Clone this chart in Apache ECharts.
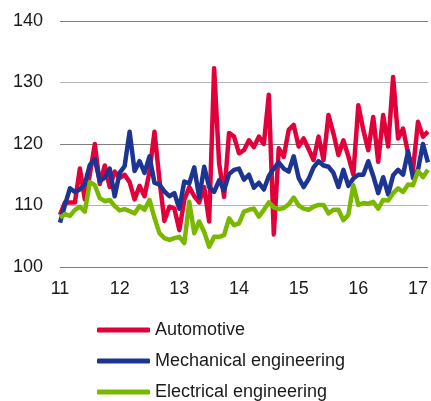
<!DOCTYPE html>
<html>
<head>
<meta charset="utf-8">
<script src="https://cdn.jsdelivr.net/npm/echarts@6/dist/echarts.min.js"></script>
<style>
html,body{margin:0;padding:0;background:#fff;}
#chart{width:431px;height:401px;}
</style>
</head>
<body>
<div id="chart"></div>
<script>
var seriesNames = ['Automotive', 'Mechanical engineering', 'Electrical engineering'];
var yearLabels = ['11', '12', '13', '14', '15', '16', '17'];
var months = ['01','02','03','04','05','06','07','08','09','10','11','12'];

var automotive = [
  108.5, 110.5, 110.5, 110.5, 116, 111, 115, 120, 113.5, 116.5,
  113, 115.5, 114.5, 115, 113.8, 111, 113.2, 111.5, 115.5, 122,
  114.2, 107.5, 109.8, 109.5, 106, 110.9, 113, 111.5, 110.5, 113,
  107.4, 132.3, 116.9, 111.4, 121.8, 121.2, 118.5, 119, 120.6, 119.5,
  121.2, 120, 128, 105.3, 119.3, 117.9, 122.3, 123.1, 119.6, 120.9,
  119.2, 117.4, 121.2, 117.4, 124.7, 121.7, 118.2, 120.6, 118, 115,
  126.3, 122.3, 119, 124.4, 117.1, 124.7, 119.6, 130.9, 120.9, 122.5,
  118.5, 115.8, 123.6, 121.2, 122
];
var mechanical = [
  107.2, 110.1, 112.8, 112.2, 112.6, 113.5, 116.6, 117.5, 114, 114.5,
  116, 111.5, 115.3, 116.4, 122, 115.6, 117.2, 115.3, 118, 113.7,
  113.4, 112.3, 111.5, 112, 109.5, 113.9, 113.6, 116.2, 111.3, 116.3,
  113, 112.2, 114.1, 112.5, 115.1, 115.8, 116, 114.2, 115, 112.9,
  113.7, 112.6, 114.8, 116, 117, 116, 115.5, 118, 114.5, 113,
  114.3, 116.2, 117.2, 116.5, 116.3, 115.3, 113, 115.8, 113.2, 114.4,
  115, 115, 117.2, 114.8, 112, 114.6, 111.8, 114.9, 115.8, 115,
  118.8, 114.5, 115.8, 120, 117
];
var electrical = [
  108, 108.6, 108.3, 109.3, 109.8, 109, 113.8, 113.3, 111.2, 110.7,
  110.9, 109.9, 109.2, 109.4, 109.1, 108.7, 109.9, 109.3, 110.9, 108,
  105.5, 104.7, 104.4, 104.7, 104.9, 103.9, 110.6, 105.5, 107.4, 105.7,
  103.3, 104.9, 104.9, 105.2, 107.9, 106.8, 107.1, 109, 109.3, 109.5,
  108.2, 109.3, 110.5, 109.7, 109.4, 109.6, 110.2, 111.3, 110, 109.5,
  109.3, 109.8, 110.1, 110.1, 108.7, 109.3, 109.3, 107.6, 108.5, 113.3,
  110.1, 110.4, 110.3, 110.6, 109.5, 110.9, 110.8, 112, 112.8, 112.2,
  113.4, 113.3, 115.6, 114.6, 115.8
];

var categories = [];
for (var y = 0; y < yearLabels.length; y++) {
  for (var m = 0; m < 12; m++) {
    if (categories.length < automotive.length) categories.push(yearLabels[y] + '-' + months[m]);
  }
}

var font = "'Liberation Sans', Arial, sans-serif";
var colors = ['#e2003b', '#1c3592', '#7ab800'];

function legendFor(i, top) {
  return {
    orient: 'vertical',
    left: 97, top: top,
    padding: 0,
    icon: 'roundRect',
    itemWidth: 53, itemHeight: 5,
    textStyle: {fontFamily: font, fontSize: 18, color: '#1a1a1a', lineHeight: 20},
    data: [seriesNames[i]]
  };
}

var chart = echarts.init(document.getElementById('chart'), null, {renderer: 'canvas'});
chart.setOption({
  animation: false,
  color: colors,
  grid: {left: 60, right: 3, top: 21, bottom: 134, containLabel: false},
  xAxis: {
    type: 'category',
    data: categories,
    boundaryGap: false,
    axisLine: {show: false},
    axisTick: {show: false},
    splitLine: {show: false},
    axisLabel: {
      interval: function (i) { return i % 12 === 0; },
      formatter: function (v) { return v.split('-')[0]; },
      fontFamily: font, fontSize: 18, color: '#1a1a1a', margin: 13
    }
  },
  yAxis: {
    type: 'value',
    min: 100, max: 140, interval: 10,
    axisLine: {show: false},
    axisTick: {show: false},
    axisLabel: {fontFamily: font, fontSize: 18, color: '#1a1a1a', margin: 17},
    splitLine: {lineStyle: {color: ['#808080', '#b4b4b4'], width: 1}}
  },
  legend: [legendFor(0, 320), legendFor(1, 351), legendFor(2, 382)],
  series: [
    {name: seriesNames[0], type: 'line', data: automotive, showSymbol: false, symbol: 'none', lineStyle: {width: 4.5, join: 'round'}},
    {name: seriesNames[1], type: 'line', data: mechanical, showSymbol: false, symbol: 'none', lineStyle: {width: 4.5, join: 'round'}},
    {name: seriesNames[2], type: 'line', data: electrical, showSymbol: false, symbol: 'none', lineStyle: {width: 4.5, join: 'round'}}
  ]
});
</script>
</body>
</html>
